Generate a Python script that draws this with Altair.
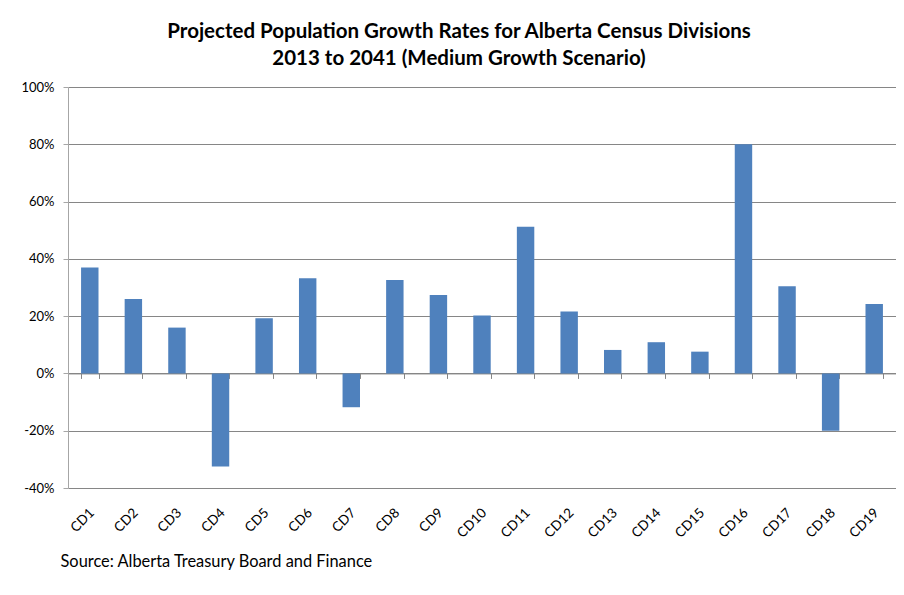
import altair as alt
import pandas as pd

categories = ["CD1", "CD2", "CD3", "CD4", "CD5", "CD6", "CD7", "CD8", "CD9", "CD10",
              "CD11", "CD12", "CD13", "CD14", "CD15", "CD16", "CD17", "CD18", "CD19"]
growth = [37.0, 26.0, 16.0, -32.5, 19.3, 33.2, -11.8, 32.6, 27.4, 20.2,
          51.2, 21.6, 8.2, 10.9, 7.6, 80.0, 30.4, -20.0, 24.2]
y_ticks = [-40, -20, 0, 20, 40, 60, 80, 100]

df = pd.DataFrame({"cd": categories, "growth": growth})

FONT = "Lato"
GRID = "#868686"

chart = alt.Chart(df).mark_bar(color="#4F81BD").encode(
    x=alt.X("cd:N", sort=categories,
            scale=alt.Scale(paddingInner=0.6, paddingOuter=0.3),
            axis=alt.Axis(
                orient="bottom", offset=-114.57, tickBand="extent",
                domainColor=GRID, tickColor=GRID, tickSize=5,
                labelAngle=-45, labelAlign="right", labelBaseline="middle",
                labelPadding=132, labelOffset=2, labelFont=FONT, labelFontSize=13.5,
                labelColor="#000000",
                grid=False,
                title="Source: Alberta Treasury Board and Finance",
                titleFont=FONT, titleFontSize=16.4, titleFontWeight="normal",
                titleColor="#000000", titleAnchor="start", titleAlign="left",
                titleBaseline="alphabetic", titleX=-8, titleY=193)),
    y=alt.Y("growth:Q",
            scale=alt.Scale(domain=[-40, 100], nice=False),
            axis=alt.Axis(values=y_ticks, labelExpr="datum.value + '%'",
                          grid=True, gridColor=GRID, gridWidth=1,
                          domainColor="#A6A6A6", tickColor="#A6A6A6", tickSize=5,
                          labelPadding=9, labelFont=FONT, labelFontSize=13,
                          labelColor="#000000", title=None)),
).properties(
    width=828, height=401,
    autosize=alt.AutoSizeParams(type="none"),
    padding={"left": 60, "top": 79, "right": 0, "bottom": 85},
    title=alt.TitleParams(
        ["Projected Population Growth Rates for Alberta Census Divisions",
         "2013 to 2041 (Medium Growth Scenario)"],
        font=FONT, fontSize=20.5, fontWeight="bold", color="#000000",
        anchor="middle", dx=-23, offset=12, lineHeight=27),
).configure_view(stroke=None)

chart.save("out.html", embed_options={"renderer": "svg", "actions": False})
